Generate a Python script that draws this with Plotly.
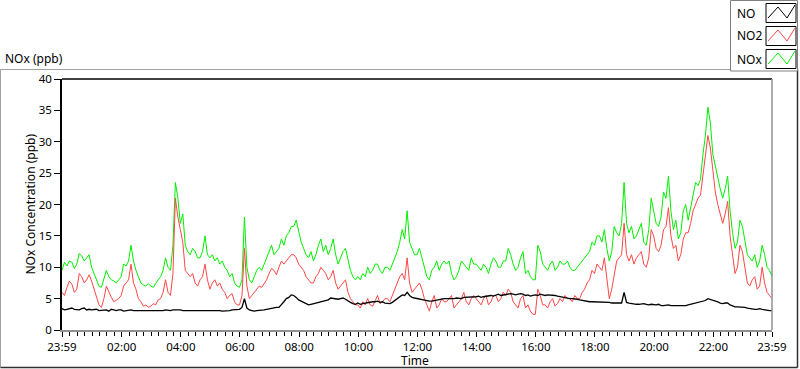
import datetime as dt
import plotly.graph_objects as go

# ---------------- data (5-minute samples, 23:59 -> 23:59 next day) ----------------
start_time = dt.datetime(2024, 1, 1, 23, 59)
step_minutes = 5

no_ppb = [
    3.4, 3.2, 3.3, 3.4, 3.5, 3.3, 3.3, 3.2, 3.4, 3.5, 3.2, 3.3,
    3.2, 3.3, 3.3, 3.1, 3.1, 3.2, 3.2, 3.0, 3.3, 3.2, 3.1, 3.2,
    3.2, 3.0, 3.1, 3.2, 3.2, 3.1, 3.1, 3.0, 3.0, 3.1, 3.1, 3.0,
    3.1, 3.0, 3.0, 3.1, 3.0, 3.1, 3.2, 3.1, 3.1, 3.2, 3.2, 3.3,
    3.2, 3.1, 3.1, 3.2, 3.2, 3.1, 3.1, 3.2, 3.2, 3.1, 3.2, 3.1,
    3.1, 3.2, 3.2, 3.1, 3.1, 3.0, 3.0, 3.1, 3.1, 3.2, 3.2, 3.2,
    3.3, 3.6, 5.0, 3.5, 3.2, 3.1, 3.0, 3.1, 3.1, 3.2, 3.2, 3.3,
    3.4, 3.5, 3.5, 3.6, 3.6, 4.0, 4.5, 5.0, 5.2, 5.6, 5.5, 5.2,
    4.8, 4.6, 4.4, 4.2, 4.0, 4.1, 4.2, 4.4, 4.5, 4.6, 4.7, 4.8,
    4.8, 5.1, 5.0, 4.9, 4.9, 5.0, 5.1, 4.9, 4.6, 4.4, 4.2, 4.1,
    4.3, 4.1, 4.2, 4.3, 4.4, 4.4, 4.5, 4.5, 4.6, 4.4, 4.5, 4.3,
    4.3, 4.2, 4.4, 4.7, 5.0, 5.3, 5.6, 5.5, 6.0, 5.5, 5.2, 5.1,
    5.0, 4.9, 4.8, 4.7, 4.7, 4.6, 4.6, 4.7, 4.8, 4.9, 5.0, 5.0,
    5.0, 5.0, 4.9, 5.0, 5.1, 5.1, 5.0, 5.2, 5.2, 5.3, 5.3, 5.2,
    5.3, 5.4, 5.2, 5.3, 5.4, 5.5, 5.5, 5.4, 5.6, 5.7, 5.5, 5.6,
    5.7, 5.8, 5.8, 5.7, 5.6, 5.7, 5.8, 5.7, 5.5, 5.6, 5.4, 5.5,
    5.6, 5.5, 5.7, 5.6, 5.5, 5.6, 5.6, 5.5, 5.5, 5.4, 5.3, 5.3,
    5.2, 5.1, 5.0, 5.0, 5.0, 4.9, 4.8, 4.7, 4.6, 4.6, 4.5, 4.5,
    4.5, 4.4, 4.4, 4.5, 4.5, 4.4, 4.4, 4.3, 4.3, 4.4, 4.4, 4.3,
    6.0, 4.4, 4.3, 4.2, 4.2, 4.1, 4.1, 4.2, 4.2, 4.1, 4.0, 4.1,
    4.0, 4.0, 4.1, 3.9, 3.9, 4.0, 4.0, 3.9, 3.9, 3.8, 3.8, 3.9,
    3.9, 3.9, 4.0, 4.1, 4.2, 4.3, 4.4, 4.4, 4.5, 4.7, 5.0, 4.9,
    4.8, 4.6, 4.5, 4.3, 4.2, 4.3, 4.3, 4.0, 3.8, 3.7, 3.7, 3.7,
    3.6, 3.6, 3.5, 3.4, 3.4, 3.3, 3.3, 3.4, 3.3, 3.2, 3.2, 3.1, 3.1,
]

no2_ppb = [
    6.0, 5.5, 6.8, 7.8, 7.3, 6.0, 6.5, 9.0, 8.5, 7.5, 8.0, 8.8,
    7.8, 6.5, 5.5, 4.0, 3.6, 5.0, 7.0, 6.0, 5.2, 4.5, 4.8, 5.0,
    5.5, 7.0, 7.5, 8.0, 10.5, 7.5, 6.5, 5.0, 4.5, 3.8, 4.0, 3.6,
    3.8, 4.2, 4.0, 4.8, 5.0, 6.0, 8.0, 6.0, 5.5, 9.0, 21.0, 18.0,
    16.0, 14.0, 9.5, 9.0, 8.5, 9.0, 7.5, 7.0, 8.0, 8.5, 10.5, 8.0,
    6.5, 7.5, 8.0, 7.0, 7.5, 6.5, 6.0, 5.0, 5.5, 5.8, 4.5, 4.0,
    4.0, 5.5, 13.0, 7.0, 5.0, 5.5, 6.0, 6.5, 7.0, 6.8, 7.5, 8.0,
    9.0, 9.8, 9.5, 8.8, 10.0, 11.0, 10.5, 11.0, 11.5, 12.0, 12.0, 11.5,
    10.5, 10.0, 9.5, 8.5, 8.0, 7.5, 7.5, 8.5, 9.0, 10.0, 9.5, 9.0,
    8.0, 8.5, 9.5, 7.5, 6.5, 7.0, 7.5, 8.0, 6.0, 5.0, 4.5, 4.0,
    4.0, 3.5, 4.5, 4.0, 5.0, 4.0, 3.8, 4.8, 5.5, 4.2, 4.5, 5.0,
    5.0, 4.5, 5.5, 6.5, 7.5, 8.5, 9.0, 8.0, 11.5, 7.5, 6.0, 6.5,
    7.0, 7.5, 6.5, 5.0, 4.0, 3.0, 4.5, 5.5, 3.5, 4.0, 5.0, 4.5,
    4.5, 5.0, 5.5, 3.5, 4.0, 4.5, 5.0, 6.0, 4.5, 4.0, 5.0, 5.5,
    5.0, 4.5, 4.0, 5.0, 5.5, 4.0, 4.5, 5.5, 5.5, 4.5, 5.0, 6.0,
    5.5, 6.5, 6.0, 4.5, 4.0, 3.5, 5.0, 5.5, 3.5, 4.0, 3.0, 2.5,
    2.5, 6.5, 5.5, 4.0, 4.0, 3.5, 4.5, 5.0, 3.8, 4.2, 5.0, 4.5,
    5.5, 5.0, 5.0, 4.5, 5.5, 5.0, 5.0, 6.0, 6.5, 7.5, 8.0, 9.5,
    9.0, 10.5, 10.0, 9.5, 11.5, 8.0, 5.0, 6.5, 8.5, 11.0, 11.5, 12.0,
    17.0, 12.0, 11.0, 12.0, 10.5, 11.5, 12.0, 12.5, 10.5, 10.0, 11.5, 16.0,
    15.0, 13.0, 12.5, 13.5, 16.0, 16.5, 19.5, 15.0, 13.0, 13.5, 11.0, 12.0,
    14.5, 15.5, 15.5, 17.0, 19.0, 20.0, 21.0, 21.5, 25.0, 27.5, 31.0, 29.0,
    25.0, 22.0, 20.0, 18.5, 17.0, 18.5, 20.5, 15.0, 11.5, 9.0, 10.0, 13.5,
    12.5, 10.0, 7.5, 7.0, 8.0, 8.5, 6.5, 7.0, 10.0, 7.5, 6.0, 5.5, 5.0,
]

nox_ppb = [
    9.5, 10.8, 10.2, 11.0, 10.8, 9.8, 10.5, 12.2, 11.8, 11.0, 11.5, 12.0,
    10.0, 9.0, 8.0, 7.0, 6.8, 8.0, 9.5, 8.5, 8.0, 7.8, 7.5, 8.0,
    8.5, 10.5, 10.2, 11.0, 13.5, 11.0, 9.5, 8.5, 7.5, 7.2, 7.0, 7.4,
    7.0, 6.8, 7.5, 8.0, 8.5, 9.5, 11.5, 10.0, 9.5, 13.5, 23.5, 21.0,
    17.0, 18.5, 13.5, 12.5, 12.0, 13.0, 12.5, 11.5, 11.5, 12.5, 15.0, 12.0,
    11.5, 12.0, 11.0, 11.5, 10.5, 11.0, 10.0, 9.5, 8.5, 9.0, 7.5, 7.0,
    6.8, 8.0, 18.0, 10.0, 8.0, 7.5, 8.5, 9.5, 10.0, 9.5, 10.5, 11.5,
    12.5, 13.5, 12.0, 12.5, 13.0, 14.5, 13.5, 15.0, 15.5, 16.5, 16.5, 17.5,
    15.5, 14.0, 13.0, 12.0, 11.5, 12.5, 11.0, 12.0, 13.5, 14.5, 12.5, 13.5,
    12.0, 13.0, 14.5, 12.0, 10.5, 11.5, 12.5, 13.0, 11.0, 9.5, 8.5, 8.0,
    8.5, 8.0, 9.0, 8.5, 10.0, 9.0, 9.5, 10.5, 10.5, 9.5, 9.0, 10.0,
    10.0, 9.5, 10.5, 11.5, 12.5, 14.0, 16.0, 14.5, 19.0, 14.0, 13.0, 12.0,
    12.0, 13.0, 11.5, 10.0, 8.5, 8.0, 9.5, 10.0, 11.0, 9.5, 10.5, 11.0,
    10.5, 11.0, 9.0, 8.0, 8.5, 9.5, 11.0, 10.5, 10.0, 9.5, 11.5, 10.5,
    10.5, 10.0, 9.5, 10.5, 10.0, 9.0, 10.5, 11.5, 11.0, 10.0, 10.0, 11.0,
    11.0, 13.0, 12.0, 10.5, 9.5, 10.0, 11.5, 12.5, 9.0, 9.5, 8.5, 8.0,
    8.0, 13.5, 12.5, 10.5, 10.0, 9.5, 10.5, 11.0, 9.5, 10.0, 11.0, 10.5,
    10.5, 11.0, 10.0, 9.5, 9.5, 10.0, 10.5, 11.0, 11.5, 12.0, 12.5, 14.0,
    13.5, 15.0, 15.0, 14.0, 16.0, 13.0, 11.0, 12.5, 16.5, 15.5, 15.0, 17.0,
    23.5, 17.0, 15.5, 16.5, 14.5, 15.0, 16.0, 17.0, 14.0, 13.5, 16.0, 21.0,
    19.0, 17.0, 16.5, 18.0, 22.0, 21.0, 24.5, 19.0, 16.0, 17.5, 14.5, 15.5,
    19.0, 20.0, 17.5, 19.5, 22.0, 23.5, 23.0, 24.0, 28.0, 31.0, 35.5, 33.0,
    28.0, 26.0, 24.0, 22.5, 21.0, 22.5, 24.5, 19.0, 15.5, 13.0, 14.0, 17.5,
    16.5, 14.0, 12.0, 11.5, 11.0, 12.0, 10.0, 11.0, 13.5, 12.0, 10.0, 9.5, 8.5,
]

series_colors = {"NO": "#000000", "NO2": "#ff4646", "NOx": "#00f000"}

tick_label_text = ["23:59", "02:00", "04:00", "06:00", "08:00", "10:00", "12:00",
                   "14:00", "16:00", "18:00", "20:00", "22:00", "23:59"]
y_tick_values = [0, 5, 10, 15, 20, 25, 30, 35, 40]

times = [start_time + dt.timedelta(minutes=step_minutes * i) for i in range(len(no_ppb))]
end_time = start_time + dt.timedelta(hours=24)
tick_positions = [start_time] + [dt.datetime(2024, 1, 2, h, 0) for h in range(2, 24, 2)] + [end_time]

# ---------------- figure ----------------
W, H = 800, 369
L, R, T, B = 62, 772, 79, 330


def px(x):
    return (x - L) / (R - L)


def py(y):
    return (B - y) / (B - T)


FONT = "Noto Sans"

fig = go.Figure()
values = {"NO": no_ppb, "NO2": no2_ppb, "NOx": nox_ppb}
widths = {"NO": 1.3, "NO2": 1, "NOx": 1}
for name in ["NOx", "NO2", "NO"]:
    fig.add_trace(go.Scatter(x=times[:len(values[name])], y=values[name], mode="lines", name=name,
                             line=dict(color=series_colors[name], width=widths[name]),
                             showlegend=False, hoverinfo="skip"))

shapes = []
# outer sunken frame
shapes.append(dict(type="line", xref="paper", yref="paper", x0=px(0.5), x1=px(730), y0=py(69.5), y1=py(69.5),
                   line=dict(color="#a0a0a0", width=1)))
shapes.append(dict(type="line", xref="paper", yref="paper", x0=px(0.5), x1=px(0.5), y0=py(69.5), y1=py(367.5),
                   line=dict(color="#a0a0a0", width=1)))
shapes.append(dict(type="line", xref="paper", yref="paper", x0=px(0.5), x1=px(797.5), y0=py(367.5), y1=py(367.5),
                   line=dict(color="#303030", width=1.5)))
shapes.append(dict(type="line", xref="paper", yref="paper", x0=px(797.5), x1=px(797.5), y0=py(69.5), y1=py(367.5),
                   line=dict(color="#303030", width=1.5)))
# plot frame: top black, right gray
shapes.append(dict(type="line", xref="paper", yref="paper", x0=0, x1=1, y0=1, y1=1,
                   line=dict(color="#000000", width=1.5)))
shapes.append(dict(type="line", xref="paper", yref="paper", x0=1, x1=1, y0=0, y1=1,
                   line=dict(color="#909090", width=1.5)))

# legend box
shapes.append(dict(type="rect", xref="paper", yref="paper", x0=px(730.5), x1=px(797.5), y0=py(0.5), y1=py(71),
                   line=dict(color="#808080", width=1), fillcolor="#ffffff"))
legend_rows = [("NO", 13), ("NO2", 36), ("NOx", 59)]
annotations = []
for name, yc in legend_rows:
    shapes.append(dict(type="rect", xref="paper", yref="paper",
                       x0=px(766), x1=px(796), y0=py(yc - 9.5), y1=py(yc + 9.5),
                       line=dict(color="#000000", width=1), fillcolor="#ffffff"))
    pts = [(768, yc + 5), (778, yc - 6), (787, yc + 5), (795, yc - 8)]
    path = "M " + " L ".join(f"{px(a)},{py(b)}" for a, b in pts)
    shapes.append(dict(type="path", xref="paper", yref="paper", path=path,
                       line=dict(color=series_colors[name], width=1)))
    annotations.append(dict(text=name, xref="paper", yref="paper", x=px(735), y=py(yc),
                            xanchor="left", yanchor="middle", showarrow=False,
                            font=dict(family=FONT, size=12, color="#000000")))

annotations.append(dict(text="NOx (ppb)", xref="paper", yref="paper", x=px(3), y=py(58),
                        xanchor="left", yanchor="middle", showarrow=False,
                        font=dict(family=FONT, size=12, color="#000000")))
annotations.append(dict(text="NOx Concentration (ppb)", xref="paper", yref="paper", x=px(30), y=0.5,
                        xanchor="center", yanchor="middle", textangle=-90, showarrow=False,
                        font=dict(family=FONT, size=12, color="#000000")))
annotations.append(dict(text="Time", xref="paper", yref="paper", x=px(415), y=py(360),
                        xanchor="center", yanchor="middle", showarrow=False,
                        font=dict(family=FONT, size=12, color="#000000")))

fig.update_layout(
    width=W, height=H,
    margin=dict(l=L, r=W - R, t=T, b=H - B, pad=0),
    paper_bgcolor="#ffffff", plot_bgcolor="#ffffff",
    font=dict(family=FONT, size=12, color="#000000"),
    shapes=shapes, annotations=annotations,
    showlegend=False, hovermode=False,
)
fig.update_xaxes(
    type="date", range=[start_time, end_time],
    tickmode="array", tickvals=tick_positions, ticktext=tick_label_text,
    ticks="outside", ticklen=5, tickcolor="#000000", tickwidth=1,
    tickfont=dict(family=FONT, size=11.5, color="#000000"),
    minor=dict(ticks="outside", ticklen=4, tickcolor="#000000", dtick=15 * 60 * 1000,
               tick0="2024-01-01 00:00"),
    showline=True, linecolor="#909090", linewidth=1.5,
    showgrid=False, zeroline=False,
)
fig.update_yaxes(
    range=[0, 40], tickmode="array", tickvals=y_tick_values,
    ticks="outside", ticklen=6, tickcolor="#000000", tickwidth=1,
    tickfont=dict(family=FONT, size=11.5, color="#000000"),
    showline=True, linecolor="#000000", linewidth=1.5,
    showgrid=False, zeroline=False,
)

fig.write_html("out.html", config={"displayModeBar": False},
               post_script="document.body.style.margin='0px';document.body.style.overflow='hidden';")
